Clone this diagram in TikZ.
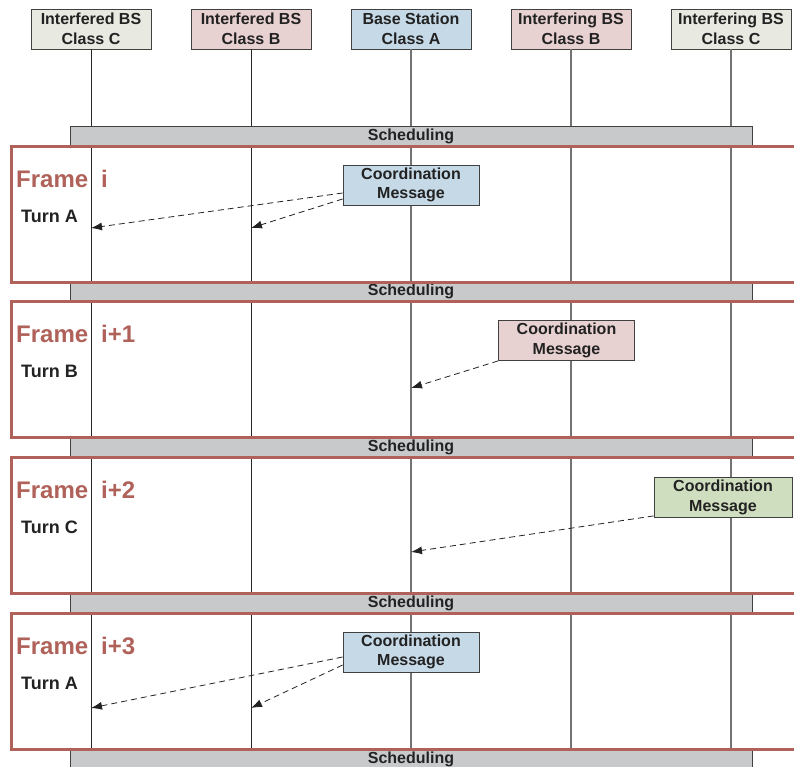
\documentclass[tikz,border=0pt]{standalone}
\usepackage{fontspec}
\setmainfont{Liberation Sans}
\usetikzlibrary{arrows.meta}
\definecolor{framered}{HTML}{B0625A}
\definecolor{classC}{HTML}{E8E9E1}
\definecolor{classB}{HTML}{E8D1D1}
\definecolor{classA}{HTML}{C6D9E7}
\definecolor{msggreen}{HTML}{D0DEC0}
\definecolor{schedgray}{HTML}{C8C9CB}
\definecolor{inkdark}{HTML}{222222}
\begin{document}
\begin{tikzpicture}[x=1pt,y=-1pt,
  hdr/.style={draw=black!75, line width=0.8pt, minimum width=120pt, minimum height=40pt,
    inner sep=0pt, align=center, text=inkdark, font=\bfseries\fontsize{16}{19.5}\selectfont},
  msgbox/.style={hdr, minimum width=136pt},
  schedbar/.style={fill=schedgray, draw=black!75, line width=0.8pt, minimum width=682pt,
    minimum height=20pt, inner sep=0pt, text=inkdark, font=\bfseries\fontsize{16}{19}\selectfont},
  lifeA/.style={draw=black!85, line width=1pt},
  lifeB/.style={draw=black!55, line width=1.2pt},
  frameborder/.style={draw=framered, line width=3pt},
  framelabel/.style={anchor=base west, inner sep=0pt, text=framered,
    font=\bfseries\fontsize{24}{28}\selectfont},
  turnlabel/.style={anchor=base west, inner sep=0pt, text=inkdark,
    font=\bfseries\fontsize{18}{22}\selectfont},
  msgarrow/.style={draw=inkdark, line width=0.8pt, dash pattern=on 6pt off 4pt,
    -{Latex[length=11pt,width=8pt]}}
]
\clip (0,0) rectangle (794,766);

% base stations
\node[hdr, fill=classC] (h1) at (91,29)  {Interfered BS\\Class C};
\node[hdr, fill=classB] (h2) at (251,29) {Interfered BS\\Class B};
\node[hdr, fill=classA] (h3) at (411,29) {Base Station\\Class A};
\node[hdr, fill=classB] (h4) at (571,29) {Interfering BS\\Class B};
\node[hdr, fill=classC] (h5) at (731,29) {Interfering BS\\Class C};

% lifelines
\coordinate (bottom) at (0,760);
\draw[lifeA] (h1.south) -- (h1.south |- bottom);
\draw[lifeA] (h2.south) -- (h2.south |- bottom);
\draw[lifeB] (h3.south) -- (h3.south |- bottom);
\draw[lifeB] (h4.south) -- (h4.south |- bottom);
\draw[lifeB] (h5.south) -- (h5.south |- bottom);

% scheduling periods between frames
\node[schedbar] (s0) at (411,136)   {Scheduling};
\node[schedbar] (s1) at (411,291.8) {Scheduling};
\node[schedbar] (s2) at (411,447.5) {Scheduling};
\node[schedbar] (s3) at (411,603.2) {Scheduling};
\node[schedbar] (s4) at (411,759)   {Scheduling};

% frames
\draw[frameborder] (11,146)   rectangle (810,282);
\draw[frameborder] (11,301.7) rectangle (810,437.7);
\draw[frameborder] (11,457.4) rectangle (810,593.4);
\draw[frameborder] (11,613.1) rectangle (810,749.1);

% frame labels
\node[framelabel] (f0) at (16,187)   {Frame\hspace{13pt}i};
\node[turnlabel]  (u0) at (21,222)   {Turn A};
\node[framelabel] (f1) at (16,342.7) {Frame\hspace{13pt}i+1};
\node[turnlabel]  (u1) at (21,377.7) {Turn B};
\node[framelabel] (f2) at (16,498.4) {Frame\hspace{13pt}i+2};
\node[turnlabel]  (u2) at (21,533.4) {Turn C};
\node[framelabel] (f3) at (16,654.1) {Frame\hspace{13pt}i+3};
\node[turnlabel]  (u3) at (21,689.1) {Turn A};

% coordination messages
\node[msgbox, fill=classA] (m0) at (411,185)   {Coordination\\Message};
\node[msgbox, fill=classB] (m1) at (566.5,340.5) {Coordination\\Message};
\node[msgbox, fill=msggreen, minimum width=138pt] (m2) at (723,497.5) {Coordination\\Message};
\node[msgbox, fill=classA] (m3) at (411,652)   {Coordination\\Message};

% arrow targets on the lifelines
\coordinate (r0a) at (91,228);
\coordinate (r0b) at (251,228);
\coordinate (r1)  at (411,388);
\coordinate (r2)  at (411,552);
\coordinate (r3a) at (91,708);
\coordinate (r3b) at (251,708);

% canvas y points up, so a downward shift is negative
\draw[msgarrow] ([yshift=-8pt]m0.west)  -- (r0a);
\draw[msgarrow] ([yshift=-14pt]m0.west) -- (r0b);
\draw[msgarrow] (m1.south west) -- (r1);
\draw[msgarrow] ([yshift=2pt]m2.south west) -- (r2);
\draw[msgarrow] ([yshift=-5pt]m3.west)  -- (r3a);
\draw[msgarrow] ([yshift=-13pt]m3.west) -- (r3b);
\end{tikzpicture}
\end{document}
